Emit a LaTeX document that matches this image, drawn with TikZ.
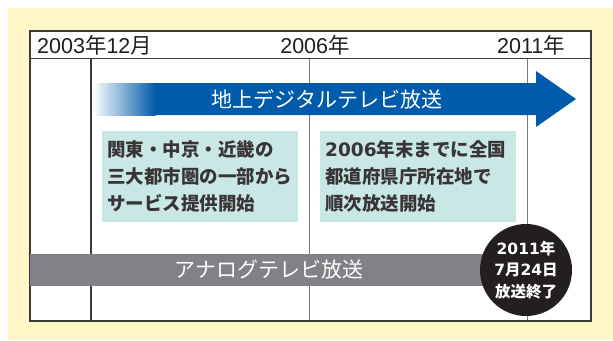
\documentclass[tikz,border=0pt]{standalone}
\usepackage{fontspec}
\setmainfont{Noto Sans CJK JP}
\newfontfamily\lat{Liberation Sans}
\newfontfamily\latb{DejaVu Sans}
\definecolor{bgyellow}{HTML}{FFF8C6}
\definecolor{tvblue}{HTML}{005BAA}
\definecolor{bargray}{HTML}{808285}
\definecolor{boxgreen}{HTML}{C9E7E4}
\definecolor{inkdark}{HTML}{231F20}
\definecolor{framegray}{HTML}{3A3A3A}
\definecolor{linegray}{HTML}{7A7A7A}
\tikzset{
  hdr/.style={inner sep=0pt, text=inkdark, font=\fontsize{21.5}{24}\selectfont},
  barlabel/.style={inner sep=0pt, text=white, font=\fontsize{21}{24}\selectfont},
  infobox/.style={fill=boxgreen, anchor=north west, minimum width=196pt, minimum height=91pt,
    text width=186pt, inner xsep=5pt, inner ysep=0pt, align=left, text=inkdark!90,
    font=\bfseries\fontsize{18.5}{27}\selectfont},
  endcircle/.style={circle, fill=inkdark, minimum size=92pt, inner sep=0pt, text=white,
    align=center, font=\bfseries\fontsize{15.5}{21.5}\selectfont},
  frame/.style={draw=framegray, line width=1.2pt},
  grid/.style={draw=linegray, line width=1pt}
}
\begin{document}
\begin{tikzpicture}[x=1pt,y=-1pt]
\useasboundingbox (0,0) rectangle (613,340);
\fill[bgyellow] (8,8) rectangle (613,340);
\fill[white] (30,31) rectangle (591,321);
% grid lines
\draw[frame] (91,58.5) -- (91,321);
\draw[grid] (309,58.5) -- (309,321);
\draw[grid] (527,58.5) -- (527,321);
\draw[frame] (30,58.5) -- (591,58.5);
\draw[frame] (30,31) rectangle (591,321);
% header labels
\node[hdr, anchor=west] (h2003) at (37,45) {{\lat 2003}年{\lat 12}月};
\node[hdr] (h2006) at (315,45) {{\lat 2006}年};
\node[hdr] (h2011) at (531,45) {{\lat 2011}年};
% digital arrow
\fill[tvblue] (155,83) -- (536,83) -- (536,71) -- (576,99) -- (536,127) -- (536,115) -- (155,115) -- cycle;
\shade[left color=tvblue!4, right color=tvblue] (95,83) rectangle (155.5,115);
\node[barlabel] (digital) at (327,99) {地上デジタルテレビ放送};
% info boxes
\node[infobox] (box1) at (102,131) {関東・中京・近畿の\\三大都市圏の一部から\\サービス提供開始};
\node[infobox] (box2) at (320,131) {{\latb\bfseries 2006}年末までに全国\\都道府県庁所在地で\\順次放送開始};
% analog bar
\fill[bargray] (30,254) rectangle (526,286);
\node[barlabel] (analog) at (269,270) {アナログテレビ放送};
% end circle
\node[endcircle] (end) at (526,270) {{\latb\bfseries 2011}年\\{\latb\bfseries 7}月{\latb\bfseries 24}日\\放送終了};
\end{tikzpicture}
\end{document}
